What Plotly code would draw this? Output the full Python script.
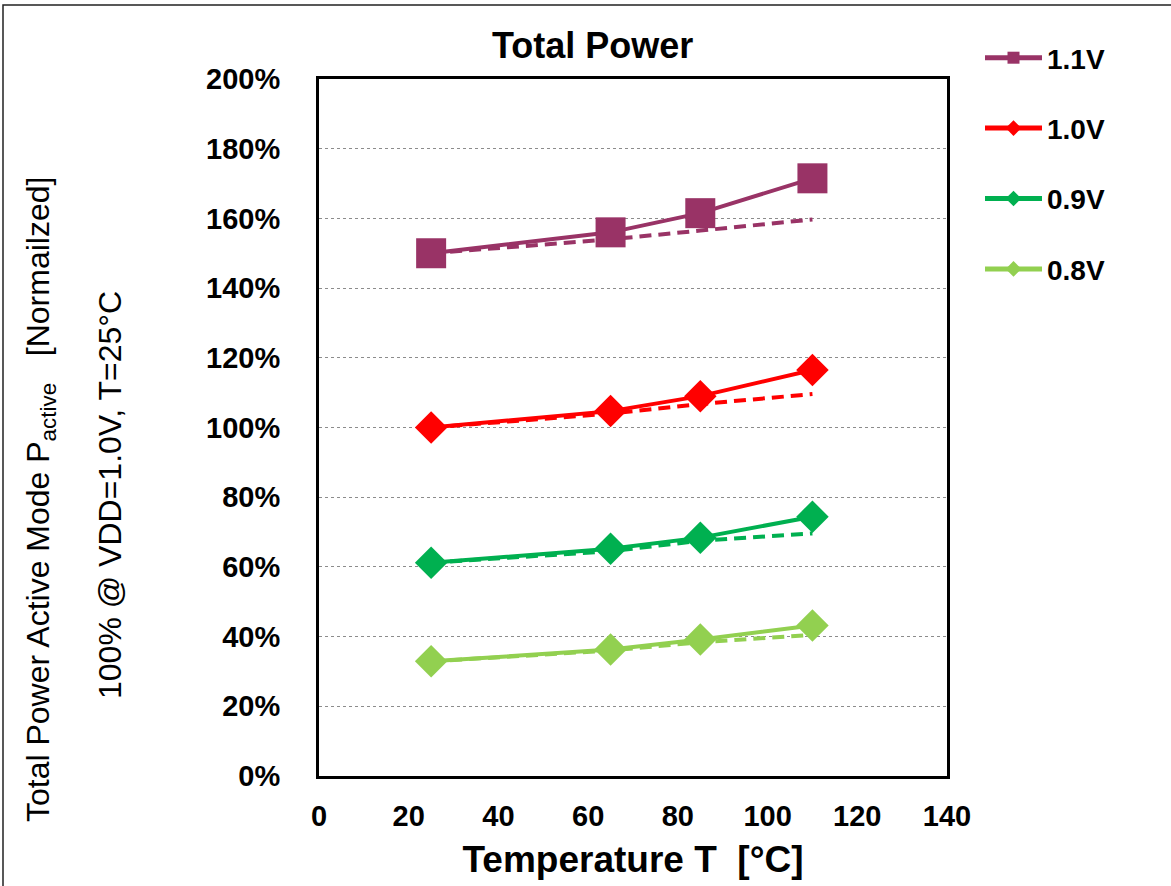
import plotly.graph_objects as go

temps = [25, 65, 85, 110]
labels = ["1.1V", "1.0V", "0.9V", "0.8V"]
colors = ["#993366", "#FF0000", "#00B050", "#92D050"]
symbols = ["square", "diamond", "diamond", "diamond"]
sizes = [30, 25, 25, 25]

measured = {
    "1.1V": [150, 156, 161.5, 171.5],
    "1.0V": [100, 104.7, 109, 116.5],
    "0.9V": [61.2, 65.2, 68.4, 74.4],
    "0.8V": [32.9, 36.3, 39.2, 43.2],
}
model = {
    "1.1V": [150, 154, 156.5, 159.7],
    "1.0V": [100, 104, 106.7, 109.6],
    "0.9V": [61.2, 64.5, 67.5, 69.6],
    "0.8V": [32.9, 36.0, 38.4, 40.5],
}

FONT = "Arial, Liberation Sans, sans-serif"
W, H = 1171, 886
L, R, T, B = 319, 947, 79, 776


def px(x):
    return (x - L) / (R - L)


def py(y):
    return (B - y) / (B - T)


fig = go.Figure()
for i, lab in enumerate(labels):
    fig.add_trace(go.Scatter(
        x=temps, y=model[lab], mode="lines",
        line=dict(color=colors[i], width=4, dash="12px,7px"),
        showlegend=False, hoverinfo="skip"))
for i, lab in enumerate(labels):
    fig.add_trace(go.Scatter(
        x=temps, y=measured[lab], mode="lines+markers", name=lab,
        legendgroup=lab,
        line=dict(color=colors[i], width=4),
        marker=dict(symbol=symbols[i], size=sizes[i], color=colors[i])))

fig.update_layout(
    width=W, height=H,
    margin=dict(l=L, r=W - R, t=T, b=H - B),
    paper_bgcolor="white", plot_bgcolor="white",
    font=dict(family=FONT, color="black"),
    showlegend=True,
    legend=dict(x=px(980), y=py(33), xanchor="left", yanchor="top",
                font=dict(size=28, family=FONT, color="black", weight="bold"),
                itemsizing="constant", itemwidth=57, tracegroupgap=31,
                bgcolor="rgba(0,0,0,0)"),
    xaxis=dict(range=[0, 140], dtick=20, tick0=0, showgrid=False,
               showline=True, linecolor="black", linewidth=3, mirror=True,
               ticks="", zeroline=False, ticklabelstandoff=12,
               tickfont=dict(size=29, family=FONT, weight="bold"),
               title=dict(text="Temperature T  [°C]",
                          font=dict(size=37, family=FONT, weight="bold"),
                          standoff=16)),
    yaxis=dict(range=[0, 200], dtick=20, tick0=0, ticksuffix="%",
               showgrid=True, gridcolor="#8c8c8c", gridwidth=1, griddash="dot",
               showline=True, linecolor="black", linewidth=3, mirror=True,
               ticks="", zeroline=False, ticklabelstandoff=30,
               tickfont=dict(size=29, family=FONT, weight="bold")),
    annotations=[
        dict(text="<b>Total Power</b>", x=px(592), y=py(46), xref="paper", yref="paper",
             showarrow=False, font=dict(size=36, family=FONT),
             xanchor="center", yanchor="middle"),
        dict(text="Total Power Active Mode P<sub>active</sub>   [Normailzed]",
             x=px(40), y=py(500), xref="paper", yref="paper", textangle=-90,
             showarrow=False, font=dict(size=32, family=FONT),
             xanchor="center", yanchor="middle"),
        dict(text="100% @ VDD=1.0V, T=25°C",
             x=px(110), y=py(495), xref="paper", yref="paper", textangle=-90,
             showarrow=False, font=dict(size=32, family=FONT),
             xanchor="center", yanchor="middle"),
    ],
    shapes=[
        dict(type="rect", xref="paper", yref="paper",
             x0=px(3), x1=px(1180), y0=py(895), y1=py(5),
             line=dict(color="#222", width=1.5), fillcolor="rgba(0,0,0,0)", layer="below"),
    ],
)

fig.write_html("out.html", config={"displayModeBar": False},
               post_script="document.body.style.margin='0px';")
